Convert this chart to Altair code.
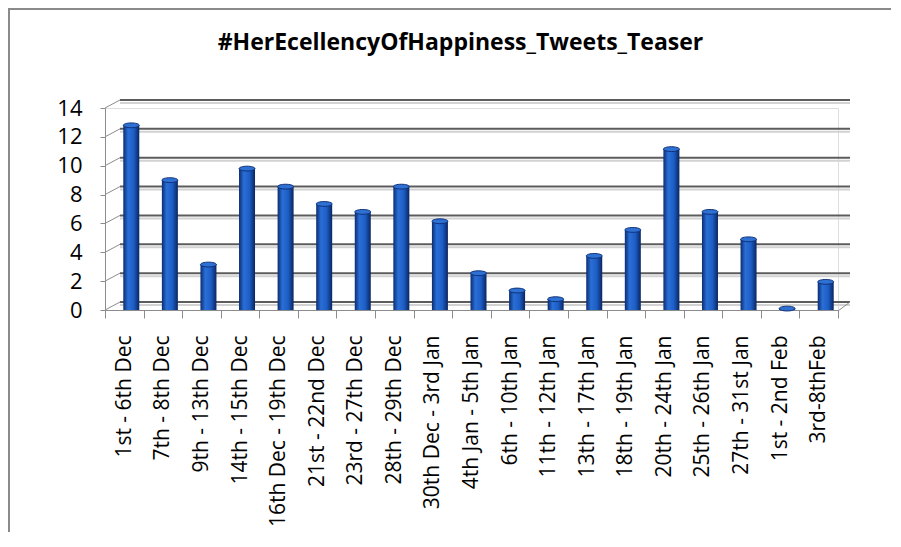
import altair as alt
import pandas as pd

categories = [
    "1st - 6th Dec", "7th - 8th Dec", "9th - 13th Dec", "14th - 15th Dec",
    "16th Dec - 19th Dec", "21st - 22nd Dec", "23rd - 27th Dec", "28th - 29th Dec",
    "30th Dec - 3rd Jan", "4th Jan - 5th Jan", "6th - 10th Jan", "11th - 12th Jan",
    "13th - 17th Jan", "18th - 19th Jan", "20th - 24th Jan", "25th - 26th Jan",
    "27th - 31st Jan", "1st - 2nd Feb", "3rd-8thFeb",
]
values = [12.8, 9.0, 3.15, 9.8, 8.55, 7.35, 6.8, 8.55, 6.15, 2.55, 1.35, 0.75,
          3.75, 5.55, 11.15, 6.8, 4.9, 0.1, 1.95]
y_ticks = [0, 2, 4, 6, 8, 10, 12, 14]
title_text = "#HerEcellencyOfHappiness_Tweets_Teaser"

W, H = 733, 202
FONT = "Open Sans"

bars_df = pd.DataFrame({"cat": categories, "v": values})
grid_df = pd.DataFrame({"g": y_ticks})
one = pd.DataFrame({"a": [0]})

yscale = alt.Scale(domain=[0, 14], nice=False, zero=True)
xscale = alt.Scale(domain=categories, paddingInner=0, paddingOuter=0)
yaxis = alt.Axis(values=y_ticks, title=None, grid=False,
                 domainColor="#8c8c8c", tickColor="#8c8c8c",
                 tickSize=5, labelPadding=18, labelFontSize=22,
                 labelFont=FONT, labelColor="#000000")

# outer chart frame (left and top edges), kept inside the drawing surface
frame_left = alt.Chart(one).mark_rule(color="#8a8a8a", strokeWidth=2).encode(
    x=alt.value(-96), x2=alt.value(-96), y=alt.value(-99), y2=alt.value(424)
)
frame_top = alt.Chart(one).mark_rule(color="#8a8a8a", strokeWidth=2).encode(
    x=alt.value(-97), x2=alt.value(786), y=alt.value(-99), y2=alt.value(-99)
)

grid_shadow = alt.Chart(grid_df).mark_rule(
    color="#d2d2d2", strokeWidth=2, yOffset=-5
).encode(
    x=alt.value(15), x2=alt.value(745),
    y=alt.Y("g:Q", scale=yscale, axis=yaxis),
)

grid = alt.Chart(grid_df).mark_rule(
    color="#5c5c5c", strokeWidth=2, yOffset=-8
).encode(
    x=alt.value(15), x2=alt.value(745),
    y=alt.Y("g:Q", scale=yscale, axis=yaxis),
)

diag = alt.Chart(grid_df).mark_rule(
    color="#8c8c8c", strokeWidth=1, y2Offset=-8
).encode(
    x=alt.value(0), x2=alt.value(15),
    y=alt.Y("g:Q", scale=yscale, axis=yaxis),
    y2=alt.Y2("g:Q"),
)

floor_right = alt.Chart(one).mark_rule(color="#8c8c8c", strokeWidth=1).encode(
    x=alt.value(W), x2=alt.value(W + 12), y=alt.value(H + 1), y2=alt.value(H - 8)
)

bar_fill = alt.Gradient(
    gradient="linear",
    stops=[
        alt.GradientStop(color="#0b2c72", offset=0),
        alt.GradientStop(color="#2a6fd6", offset=0.3),
        alt.GradientStop(color="#1d5ec6", offset=0.65),
        alt.GradientStop(color="#0a2560", offset=1),
    ],
    x1=0, x2=1, y1=0, y2=0,
)

xaxis = alt.Axis(title=None, labelAngle=-90, labelFontSize=21,
                 labelFont=FONT, labelColor="#000000",
                 tickBand="extent", tickSize=8, tickColor="#8c8c8c",
                 domainColor="#8c8c8c", labelPadding=17, labelLimit=300)

bars = alt.Chart(bars_df).mark_bar(
    color=bar_fill, size=16, xOffset=7,
).encode(
    x=alt.X("cat:N", sort=categories, scale=xscale, axis=xaxis),
    y=alt.Y("v:Q", scale=yscale, axis=yaxis),
)

ellipse = "M-1,0 A1,0.3 0 1,0 1,0 A1,0.3 0 1,0 -1,0 Z"
tops = alt.Chart(bars_df).mark_point(
    shape=ellipse, size=256, filled=True, fill="#2f71d2", stroke="#0e2f78",
    strokeWidth=1, opacity=1, xOffset=7,
).encode(
    x=alt.X("cat:N", sort=categories, scale=xscale, axis=xaxis),
    y=alt.Y("v:Q", scale=yscale, axis=yaxis),
)

chart = alt.layer(
    frame_left, frame_top, grid_shadow, grid, diag, floor_right, bars, tops
).properties(
    width=W, height=H,
    title=alt.TitleParams(title_text, fontSize=23, font=FONT, fontWeight="bold",
                          color="#000000", anchor="middle", frame="group",
                          baseline="alphabetic", offset=-65, dx=-11),
    autosize=alt.AutoSizeParams(type="none"),
    padding={"left": 97, "top": 100, "right": 55, "bottom": 224},
).configure_view(stroke=None).configure(background="#ffffff")

chart.save("out.html", embed_options={"renderer": "svg", "actions": False})
